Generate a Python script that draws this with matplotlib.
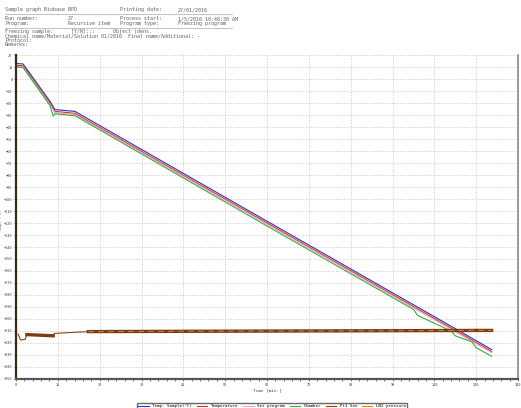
import matplotlib.pyplot as plt
from matplotlib.ticker import MultipleLocator

# main temperature curves (time in min, temp in degC)
time_main = [0, 1.7, 8.1, 9.3, 14.1, 60, 104, 113.7]
temp_blue = [13, 12.5, -18.5, -25.5, -27, -118.5, -206, -225.5]
temp_red = [11.5, 11, -20, -27, -28.6, -120, -207.5, -227]
temp_pink = [10.5, 10, -21, -28, -29.6, -121, -208.5, -228]

time_green = [0, 1.7, 8.1, 8.9, 9.3, 14.1, 60, 95, 96, 104, 105, 109, 110, 113.7]
temp_green = [10, 9.5, -22, -31, -29, -30.6, -122.5, -192, -197, -210, -214, -219, -224, -231]

# pressure trace
time_press = [0.5, 1.1, 2.2, 2.6, 8.9, 9.2, 17.3, 113.7]
val_press = [-212.5, -217.5, -217, -213, -214, -212, -210.5, -209.5]

legend_labels = ['Temp. Sample(°C)', 'Temperature', 'Set program', 'Chamber', 'Pt1 Sen', 'LN2 pressure']

plt.rcParams['font.family'] = ['DejaVu Sans Mono']

fig = plt.figure(figsize=(5.21, 4.08), dpi=100)
ax = fig.add_axes([16 / 521, 1 - 379 / 408, 502 / 521, 324 / 408])

# header block
hdr = 3.6
tc = '#606060'
fig.text(5 / 521, 1 - 10 / 408, 'Sample graph Biobase BPD', fontsize=hdr, va='center', color=tc)
fig.text(120 / 521, 1 - 10 / 408, 'Printing date:', fontsize=hdr, va='center', color=tc)
fig.text(178 / 521, 1 - 10 / 408, '27/01/2016', fontsize=hdr, va='center', color=tc)
rows2 = [('Run number:', '27', 'Process start:', '1/5/2016 10:46:30 AM'),
         ('Program:', 'Recursive item', 'Program type:', 'Freezing program')]
for i, r in enumerate(rows2):
    yy = 1 - (19 + 4.5 * i) / 408
    for x, s in zip([5, 68, 120, 178], r):
        fig.text(x / 521, yy, s, fontsize=hdr, va='center', color=tc)
rows3 = ['Freezing sample:      [Y/N]:::      Object (dens.',
         'Chemical name/Material/Solution 01/2016  Final name/Additional: -',
         'Protocol:',
         'Remarks:']
for i, s in enumerate(rows3):
    fig.text(5 / 521, 1 - (32 + 4 * i) / 408, s, fontsize=hdr, va='center', color=tc)
for yl in [14, 28]:
    fig.add_artist(plt.Line2D([5 / 521, 232 / 521], [1 - yl / 408, 1 - yl / 408],
                              color='#aaaaaa', lw=0.5, transform=fig.transFigure))

ax.plot(time_main, temp_blue, color='#3030c0', lw=0.8, label=legend_labels[0])
ax.plot(time_main, temp_red, color='#d03030', lw=0.8, label=legend_labels[1])
ax.plot(time_main, temp_pink, color='#f0a0b0', lw=0.8, label=legend_labels[2])
ax.plot(time_green, temp_green, color='#30b040', lw=0.8, label=legend_labels[3])
ax.plot(time_press, val_press, color='#8b4513', lw=0.8, label=legend_labels[4])
ax.plot(time_press[3:5], val_press[3:5], color='#7a3c10', lw=2.4)
ax.plot(time_press[6:], val_press[6:], color='#7a3c10', lw=2.4)
ax.plot(time_press[6:], val_press[6:], color='#c08050', lw=0.8, dashes=(5, 4))
ax.plot([], [], color='#e08030', lw=0.8, label=legend_labels[5])

ax.set_xlim(0, 120)
ax.set_ylim(-250, 20)
ax.xaxis.set_major_locator(MultipleLocator(10))
ax.xaxis.set_minor_locator(MultipleLocator(2))
ax.yaxis.set_major_locator(MultipleLocator(10))
ax.tick_params(labelsize=2.6, length=1.6, width=0.5, pad=1, colors='#444444')
ax.tick_params(which='minor', length=1.2, width=0.4)
ax.grid(True, ls=(0, (2, 2)), color='#c4c4c4', lw=0.5)
ax.spines['top'].set_visible(False)
ax.spines['left'].set_color('#3a2a1a')
ax.spines['left'].set_linewidth(1.6)
ax.spines['bottom'].set_color('#555555')
ax.spines['bottom'].set_linewidth(1.6)
ax.spines['right'].set_color('#888888')
ax.spines['right'].set_linewidth(1.2)
ax.set_xlabel('Time [min.]', fontsize=3.2, labelpad=1, color='#444444')
ax.set_ylabel('Temp. (°C)', fontsize=2.6, color='#444444')
ax.yaxis.set_label_coords(-0.0265, 0.49)

fig.legend(loc='upper center', bbox_to_anchor=(272 / 521, 1 - 401 / 408), ncol=6,
           fontsize=3, frameon=True, fancybox=False, edgecolor='#444444',
           handlelength=2.5, columnspacing=1.2, borderpad=0.3)

fig.savefig('out.png', dpi=100)
